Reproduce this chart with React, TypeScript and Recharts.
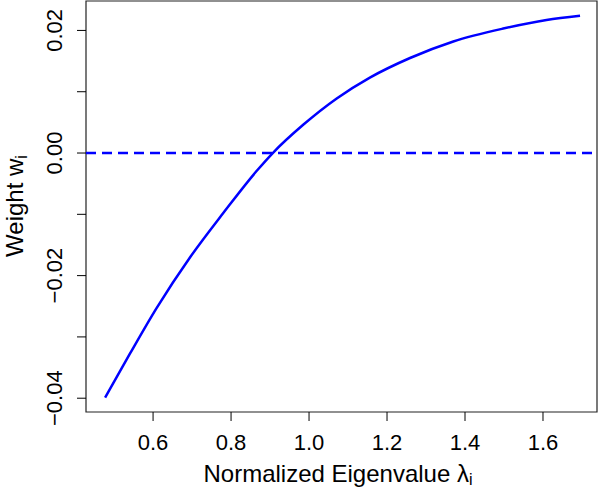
import {
  LineChart,
  Line,
  XAxis,
  YAxis,
  ReferenceLine,
  ReferenceArea,
  Label,
} from "recharts";

// ── 데이터 ──

const lambdaVals = [
  0.477, 0.541, 0.609, 0.695, 0.78, 0.866, 0.907, 0.985, 1.071, 1.156, 1.259,
  1.37, 1.498, 1.609, 1.695,
];
const weightVals = [
  -0.0399, -0.0327, -0.0253, -0.017, -0.0098, -0.0029, 0.0, 0.0046, 0.0089,
  0.0123, 0.0155, 0.0182, 0.0203, 0.0217, 0.0224,
];
const xTicks = [0.6, 0.8, 1.0, 1.2, 1.4, 1.6];
const yTicks = [-0.04, -0.03, -0.02, -0.01, 0.0, 0.01, 0.02];
// R drops the labels that would overlap; only these carry text
const yLabelled = [-0.04, -0.02, 0.0, 0.02];

const X_DOMAIN: [number, number] = [0.428, 1.7385];
const Y_DOMAIN: [number, number] = [-0.04225, 0.0248];

const FONT = "'Liberation Sans', Arial, Helvetica, sans-serif";
const BLUE = "#0000ff";

const data = lambdaVals.map((x, i) => ({ x, w: weightVals[i] }));

// ── 유틸 ──

function fmtY(v: number): string {
  const s = Math.abs(v).toFixed(2);
  return v < 0 ? `\u2212${s}` : s;
}

function XTick({ x, y, payload }: { x?: number; y?: number; payload?: { value: number } }) {
  if (x == null || y == null || !payload) return null;
  return (
    <text x={x} y={y + 19} textAnchor="middle" dominantBaseline="central" fontFamily={FONT} fontSize={22} fill="#000">
      {payload.value.toFixed(1)}
    </text>
  );
}

function YTick({ x, y, payload }: { x?: number; y?: number; payload?: { value: number } }) {
  if (x == null || y == null || !payload) return null;
  if (!yLabelled.some((v) => Math.abs(v - payload.value) < 1e-9)) return null;
  const cx = x - 20;
  return (
    <text
      x={cx}
      y={y}
      transform={`rotate(-90, ${cx}, ${y})`}
      textAnchor="middle"
      dominantBaseline="central"
      fontFamily={FONT}
      fontSize={22}
      fill="#000"
    >
      {fmtY(payload.value)}
    </text>
  );
}

// ── 메인 컴포넌트 ──

export default function App() {
  return (
    <div style={{ position: "absolute", left: 0, top: 0, width: 600, height: 488, background: "#fff" }}>
      <LineChart width={600} height={488} data={data} margin={{ top: 1, right: 3, bottom: 0, left: 0 }}>
        <XAxis
          dataKey="x"
          type="number"
          domain={X_DOMAIN}
          ticks={xTicks}
          allowDataOverflow
          axisLine={false}
          tickLine={{ stroke: "#000", strokeWidth: 1 }}
          tickSize={9}
          height={76}
          tick={<XTick />}
          interval={0}
        >
          <Label
            content={() => (
              <text x={338} y={482} textAnchor="middle" fontFamily={FONT} fontSize={24} fill="#000">
                Normalized Eigenvalue λ
                <tspan fontSize={16} dy={3}>i</tspan>
              </text>
            )}
          />
        </XAxis>
        <YAxis
          type="number"
          domain={Y_DOMAIN}
          ticks={yTicks}
          allowDataOverflow
          axisLine={false}
          tickLine={{ stroke: "#000", strokeWidth: 1 }}
          tickSize={9}
          width={86}
          tick={<YTick />}
          interval={0}
        >
          <Label
            content={() => (
              <text
                x={23}
                y={206}
                transform="rotate(-90, 23, 206)"
                textAnchor="middle"
                fontFamily={FONT}
                fontSize={24}
                fill="#000"
              >
                Weight w
                <tspan fontSize={16} dy={4}>i</tspan>
              </text>
            )}
          />
        </YAxis>
        <ReferenceLine y={0} stroke={BLUE} strokeWidth={2.5} strokeDasharray="10 6" />
        <ReferenceArea
          x1={X_DOMAIN[0]}
          x2={X_DOMAIN[1]}
          y1={Y_DOMAIN[0]}
          y2={Y_DOMAIN[1]}
          fill="none"
          fillOpacity={0}
          stroke="#222"
          strokeWidth={1.2}
        />
        <Line
          type="monotone"
          dataKey="w"
          stroke={BLUE}
          strokeWidth={2.5}
          dot={false}
          isAnimationActive={false}
        />
      </LineChart>
    </div>
  );
}
